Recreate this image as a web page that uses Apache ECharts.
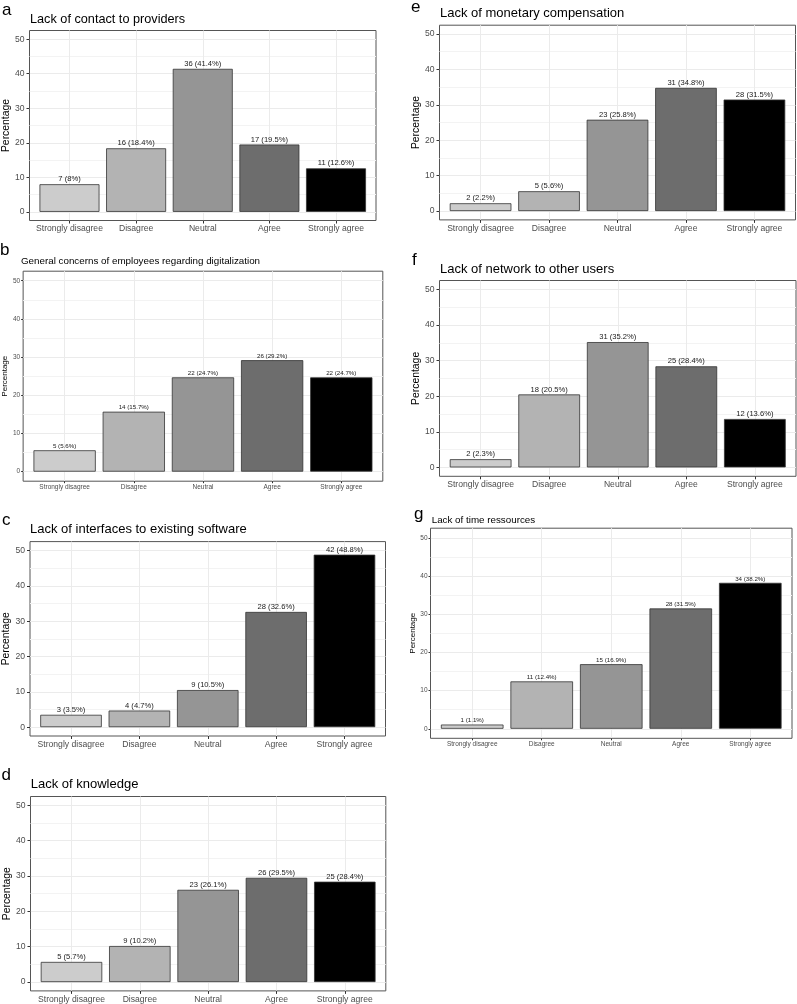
<!DOCTYPE html>
<html><head><meta charset="utf-8">
<script src="https://cdn.jsdelivr.net/npm/echarts@6/dist/echarts.min.js"></script>
<style>html,body{margin:0;padding:0;background:#fff}#c{width:797px;height:1004px}</style>
</head><body><div id="c"></div>
<script>
// ---- data ----
const categories = ['Strongly disagree', 'Disagree', 'Neutral', 'Agree', 'Strongly agree'];
const xTicks = [0, 1, 2, 3, 4];
const yTicks = [0, 10, 20, 30, 40, 50];
const yMinorTicks = [5, 15, 25, 35, 45];
const barFills = ['#CCCCCC', '#B3B3B3', '#959595', '#6D6D6D', '#000000'];
const yTitle = 'Percentage';

const titleA = 'Lack of contact to providers';
const countsA = [7, 16, 36, 17, 11];
const pctA = [8, 18.4, 41.4, 19.5, 12.6];

const titleB = 'General concerns of employees regarding digitalization';
const countsB = [5, 14, 22, 26, 22];
const pctB = [5.6, 15.7, 24.7, 29.2, 24.7];

const titleC = 'Lack of interfaces to existing software';
const countsC = [3, 4, 9, 28, 42];
const pctC = [3.5, 4.7, 10.5, 32.6, 48.8];

const titleD = 'Lack of knowledge';
const countsD = [5, 9, 23, 26, 25];
const pctD = [5.7, 10.2, 26.1, 29.5, 28.4];

const titleE = 'Lack of monetary compensation';
const countsE = [2, 5, 23, 31, 28];
const pctE = [2.2, 5.6, 25.8, 34.8, 31.5];

const titleF = 'Lack of network to other users';
const countsF = [2, 18, 31, 25, 12];
const pctF = [2.3, 20.5, 35.2, 28.4, 13.6];

const titleG = 'Lack of time ressources';
const countsG = [1, 11, 15, 28, 34];
const pctG = [1.1, 12.4, 16.9, 31.5, 38.2];

// ---- layout ----
const FONT = '"Liberation Sans", Arial, Helvetica, sans-serif';
const panels = [
  {tag: 'a', title: titleA, counts: countsA, pct: pctA, box: [29.5, 30.5, 346.5, 190], small: false, tagPos: [2, 11], titlePos: [30, 19], titleSize: 12.7, nameGap: 16},
  {tag: 'b', title: titleB, counts: countsB, pct: pctB, box: [20.5, 271.2, 362.3, 210], small: true, tagPos: [0, 250.5], titlePos: [21, 261], titleSize: 9.8, nameGap: 12.5},
  {tag: 'c', title: titleC, counts: countsC, pct: pctC, box: [30, 541.6, 355.5, 194.4], small: false, tagPos: [2, 521], titlePos: [30, 529.3], titleSize: 13, nameGap: 16.5},
  {tag: 'd', title: titleD, counts: countsD, pct: pctD, box: [30.5, 796.5, 355.3, 194.4], small: false, tagPos: [1.5, 775.5], titlePos: [30.7, 784.3], titleSize: 13, nameGap: 17},
  {tag: 'e', title: titleE, counts: countsE, pct: pctE, box: [439.5, 25.2, 356, 194.7], small: false, tagPos: [411, 8], titlePos: [440, 13.3], titleSize: 13, nameGap: 16.5},
  {tag: 'f', title: titleF, counts: countsF, pct: pctF, box: [439.5, 280.5, 356.5, 195.8], small: false, tagPos: [412, 261], titlePos: [440, 269], titleSize: 13, nameGap: 16.5},
  {tag: 'g', title: titleG, counts: countsG, pct: pctG, box: [430.5, 528.2, 361.5, 210.1], small: true, tagPos: [414, 515], titlePos: [431.7, 520], titleSize: 9.8, nameGap: 8}
];

const grid = [], xAxis = [], yAxis = [], series = [], graphic = [];
panels.forEach((p, i) => {
  const s = p.small;
  const tickFs = s ? 6.5 : 8.6;
  const nameFs = s ? 8 : 10.4;
  const labFs = s ? 6.2 : 7.6;
  grid.push({left: p.box[0], top: p.box[1], width: p.box[2], height: p.box[3], containLabel: false,
    show: true, borderColor: '#555555', borderWidth: 1, backgroundColor: 'transparent'});
  xAxis.push({type: 'value', gridIndex: i, min: -0.6, max: 4.6,
    axisLine: {show: false, onZero: false},
    axisTick: {show: true, customValues: xTicks, length: s ? 2 : 3, lineStyle: {color: '#333333', width: 1}},
    axisLabel: {show: true, customValues: xTicks, formatter: v => categories[Math.round(v)],
      fontSize: tickFs, color: '#4D4D4D', fontFamily: FONT, margin: s ? 2.5 : 4},
    splitLine: {show: true, lineStyle: {color: '#EBEBEB', width: 1}}
  });
  yAxis.push({type: 'value', gridIndex: i, min: -2.5, max: 52.5, position: 'left',
    axisLine: {show: false, onZero: false},
    axisTick: {show: true, customValues: yTicks, length: s ? 2 : 3, lineStyle: {color: '#333333', width: 1}},
    axisLabel: {show: true, customValues: yTicks, fontSize: tickFs, color: '#4D4D4D', fontFamily: FONT, margin: s ? 3 : 5},
    splitLine: {show: true, lineStyle: {color: '#EBEBEB', width: 1}},
    name: yTitle, nameLocation: 'middle', nameGap: p.nameGap,
    nameTextStyle: {fontSize: nameFs, color: '#000000', fontFamily: FONT}
  });
  yAxis.push({type: 'value', gridIndex: i, min: -2.5, max: 52.5, position: 'left',
    axisLine: {show: false, onZero: false},
    axisTick: {show: false, customValues: yMinorTicks},
    axisLabel: {show: false, customValues: yMinorTicks},
    splitLine: {show: true, lineStyle: {color: '#F3F3F3', width: 1}}
  });
  const counts = p.counts, pct = p.pct;
  series.push({type: 'bar', xAxisIndex: i, yAxisIndex: 2 * i, barWidth: '90%',
    data: pct.map((v, j) => ({value: [j, v], itemStyle: {color: barFills[j]}})),
    itemStyle: {borderColor: '#333333', borderWidth: 0.8},
    label: {show: true, position: 'top', distance: 1, fontSize: labFs, color: '#1a1a1a', fontFamily: FONT,
      formatter: prm => counts[prm.dataIndex] + ' (' + pct[prm.dataIndex] + '%)'}
  });
  graphic.push({type: 'text', left: p.tagPos[0], top: p.tagPos[1] - 9, style: {text: p.tag, fill: '#000', font: '17px ' + FONT}});
  graphic.push({type: 'text', x: p.titlePos[0], y: p.titlePos[1],
    style: {text: p.title, fill: '#000', font: p.titleSize + 'px ' + FONT, verticalAlign: 'middle', align: 'left'}});
});

const chart = echarts.init(document.getElementById('c'), null, {renderer: 'canvas'});
chart.setOption({animation: false, backgroundColor: '#ffffff', grid, xAxis, yAxis, series, graphic});
</script></body></html>
